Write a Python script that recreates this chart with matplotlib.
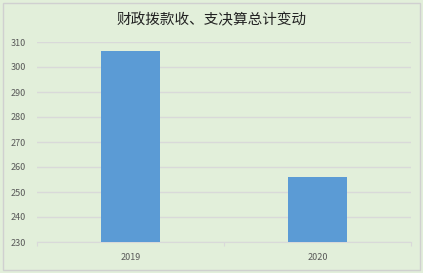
import matplotlib.pyplot as plt
import matplotlib.patches as patches

plt.rcParams['font.family'] = ['Noto Sans CJK SC', 'DejaVu Sans']

# Data
years = ['2019', '2020']
totals = [306.4, 256.0]

BG = '#E2EFDA'
BAR = '#5B9BD5'
GRID = '#D9D9D9'
TEXT = '#595959'

fig = plt.figure(figsize=(4.23, 2.73), dpi=100)
fig.patch.set_facecolor(BG)

# outer chart border
fig.add_artist(patches.Rectangle((3 / 423, 3 / 273), 417 / 423, 267 / 273,
                                 transform=fig.transFigure, fill=False,
                                 edgecolor='#D0D0D0', linewidth=1))

ax = fig.add_axes([37 / 423, 1 - 242 / 273, 374 / 423, 200 / 273])
ax.set_facecolor(BG)

x = range(len(years))
ax.bar(x, [t - 230 for t in totals], bottom=230, width=0.315, color=BAR, zorder=3)

ax.set_xlim(-0.5, len(years) - 0.5)
ax.set_ylim(230, 310)
ax.set_yticks(range(230, 311, 10))
ax.grid(axis='y', color=GRID, linewidth=1, zorder=0)

ax.set_xticks([-0.5, 0.5, 1.5])
ax.set_xticklabels([])
ax.set_xticks(list(x), minor=True)
ax.set_xticklabels(years, minor=True)
ax.tick_params(axis='x', which='major', length=3, color=GRID, direction='out')
ax.tick_params(axis='x', which='minor', length=0, pad=8, labelsize=6.5, labelcolor=TEXT)
ax.tick_params(axis='y', length=0, pad=8, labelsize=6.5, labelcolor=TEXT)

for s in ['top', 'right', 'left']:
    ax.spines[s].set_visible(False)
ax.spines['bottom'].set_color(GRID)

fig.text(0.5, 1 - 20 / 273, '财政拨款收、支决算总计变动', ha='center', va='center',
         fontsize=10.5, color='#222222')

plt.savefig('out.png', dpi=100, facecolor=BG)
